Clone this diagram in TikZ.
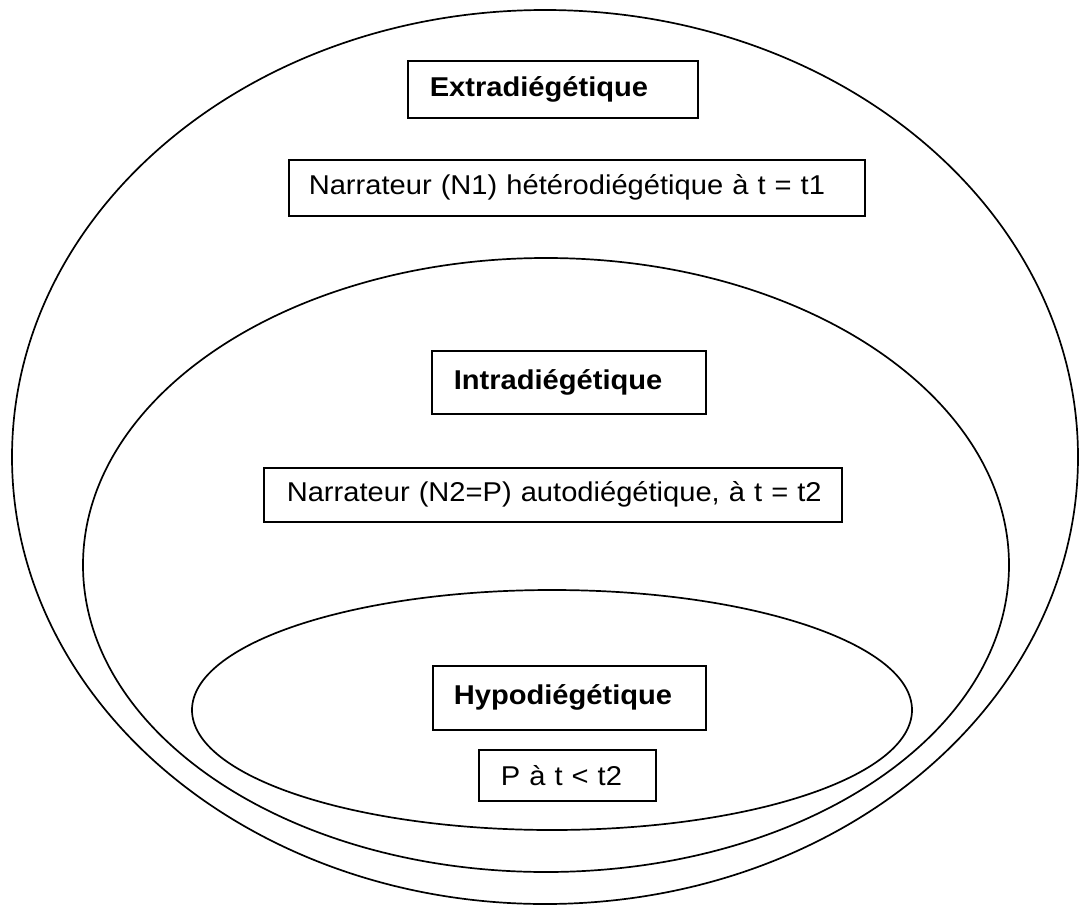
\documentclass[tikz,border=0pt]{standalone}
\usepackage{fontspec}
\setmainfont{Liberation Sans}[FakeStretch=1.07]
\tikzset{
  lvl/.style={draw, line width=1.7pt},
  lbl/.style={draw, line width=1.6pt, rectangle, anchor=north west, align=left, inner ysep=0pt,
    font=\fontsize{27.2}{31}\selectfont},
}
\begin{document}
\begin{tikzpicture}[x=1pt, y=-1pt]
\useasboundingbox (0,0) rectangle (1079,905);
\draw[lvl] (545,457) ellipse [x radius=533, y radius=447];
\draw[lvl] (546,565) ellipse [x radius=463, y radius=307];
\draw[lvl] (552,710) ellipse [x radius=360, y radius=120];
\node[lbl, inner xsep=22pt, text width=246pt, minimum height=57pt] (ext) at (407,60) {\mbox{\bfseries Extradiégétique}};
\node[lbl, inner xsep=20pt, text width=536pt, minimum height=56pt] (nar1) at (288,159) {\mbox{Narrateur (N1) hétérodiégétique à t = t1}};
\node[lbl, inner xsep=22pt, text width=230pt, minimum height=63pt] (intra) at (431,350) {\mbox{\bfseries Intradiégétique}};
\node[lbl, inner xsep=23pt, text width=532pt, minimum height=54pt] (nar2) at (263,467) {\mbox{Narrateur (N2=P) autodiégétique, à t = t2}};
\node[lbl, inner xsep=21pt, text width=231pt, minimum height=64pt] (hypo) at (432,665) {\mbox{\bfseries Hypodiégétique}};
\node[lbl, inner xsep=22pt, text width=133pt, minimum height=51pt] (pat) at (478,749) {\mbox{P à t < t2}};
\end{tikzpicture}
\end{document}
